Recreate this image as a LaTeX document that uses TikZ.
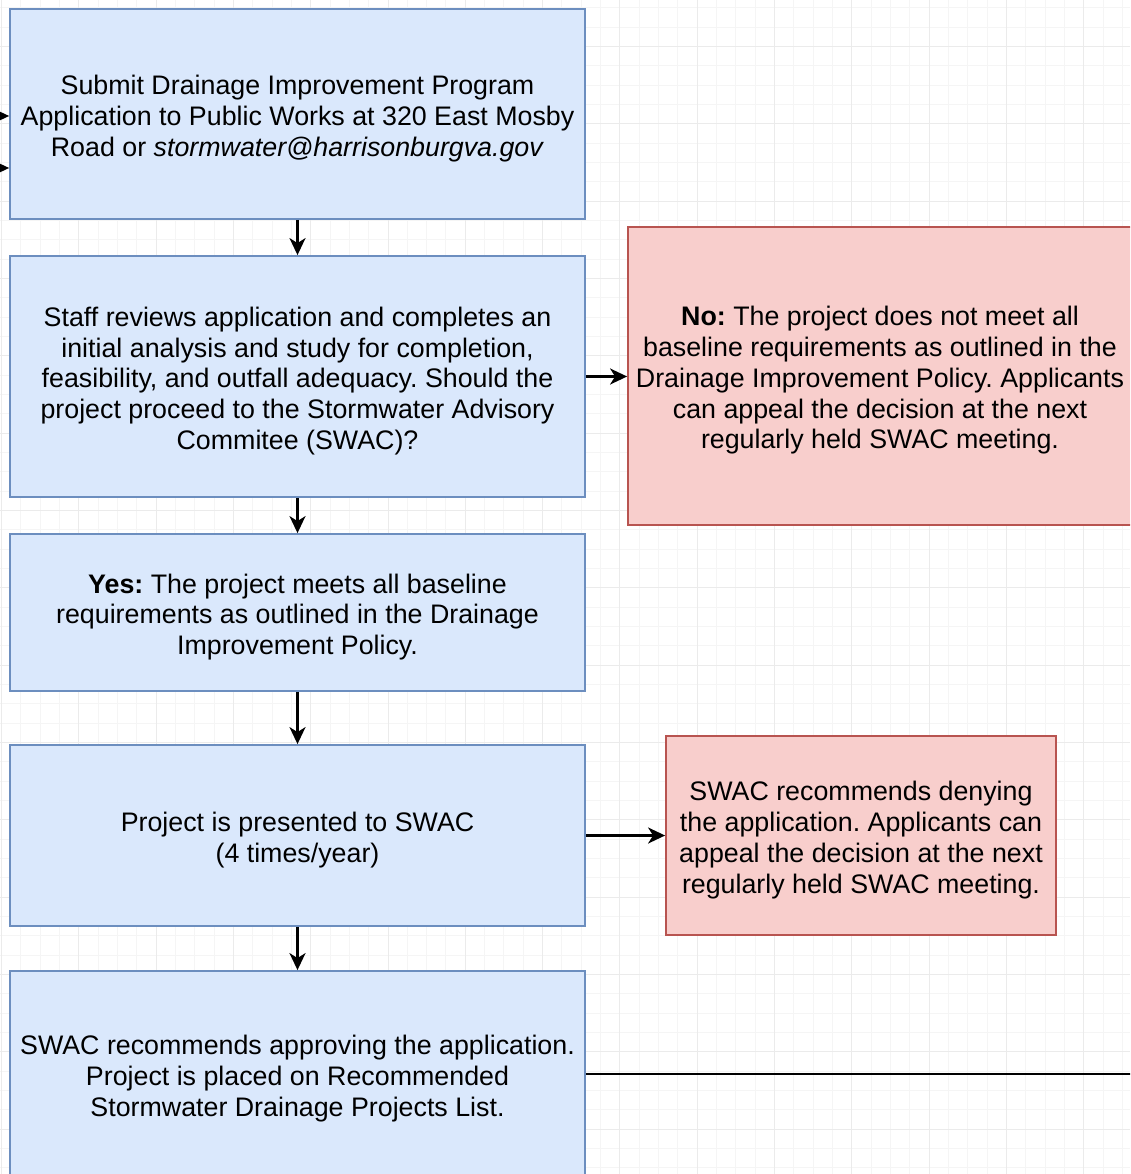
\documentclass[tikz,border=0pt]{standalone}
\usepackage{fontspec}
\setmainfont{Liberation Sans}
\usetikzlibrary{arrows.meta}
\definecolor{bluefill}{HTML}{DAE8FC}
\definecolor{bluedraw}{HTML}{6C8EBF}
\definecolor{redfill}{HTML}{F8CECC}
\definecolor{reddraw}{HTML}{B85450}
\definecolor{gridminor}{HTML}{F5F5F5}
\definecolor{gridmajor}{HTML}{EBEBEB}
\begin{document}
\frenchspacing
\begin{tikzpicture}[x=1pt,y=-1pt,
 box/.style={draw=bluedraw,fill=bluefill,line width=1.8pt,inner sep=0pt},
 redbox/.style={box,draw=reddraw,fill=redfill},
 txt/.style={inner sep=0pt,align=center,yshift=-4.5pt,font=\fontsize{26.8}{30.75}\selectfont},
 conn/.style={line width=2.4pt,-{Stealth[length=17pt,width=16pt,inset=5pt]}},
 plainline/.style={line width=2.2pt}]
\useasboundingbox (0,0) rectangle (1130,1174);
\clip (0,0) rectangle (1130,1174);
\fill[white] (0,0) rectangle (1130,1174);
\foreach \i in {0,...,58} { \draw[gridminor,line width=1pt] ({1.4+19.33*\i},0) -- ++(0,1174); }
\foreach \j in {0,...,60} { \draw[gridminor,line width=1pt] (0,{7.94+19.33*\j}) -- ++(1130,0); }
\foreach \i in {0,...,14} { \draw[gridmajor,line width=1pt] ({1.4+77.32*\i},0) -- ++(0,1174); }
\foreach \j in {0,...,14} { \draw[gridmajor,line width=1pt] (0,{46.6+77.32*\j}) -- ++(1130,0); }

\node[box,minimum width=575pt,minimum height=210pt] (b1) at (297.5,114) {};
\node[box,minimum width=575pt,minimum height=241pt] (b2) at (297.5,376.5) {};
\node[box,minimum width=575pt,minimum height=157pt] (b3) at (297.5,612.5) {};
\node[box,minimum width=575pt,minimum height=181pt] (b4) at (297.5,835.5) {};
\node[box,minimum width=575pt,minimum height=206pt] (b5) at (297.5,1074) {};
\node[redbox,minimum width=504pt,minimum height=298pt] (r1) at (880,376) {};
\node[redbox,minimum width=390pt,minimum height=199pt] (r2) at (861,835.5) {};

\node[txt] (t1) at (b1.center) {Submit Drainage Improvement Program\\Application to Public Works at 320 East Mosby\\Road or \textit{stormwater@harrisonburgva.gov}};
\node[txt] (t2) at (b2.center) {Staff reviews application and completes an\\initial analysis and study for completion,\\feasibility, and outfall adequacy. Should the\\project proceed to the Stormwater Advisory\\Commitee (SWAC)?};
\node[txt] (t3) at (b3.center) {\textbf{Yes:} The project meets all baseline\\requirements as outlined in the Drainage\\Improvement Policy.};
\node[txt] (t4) at (b4.center) {Project is presented to SWAC\\(4 times/year)};
\node[txt] (t5) at (b5.center) {SWAC recommends approving the application.\\Project is placed on Recommended\\Stormwater Drainage Projects List.};
\node[txt] (t6) at (r1.center) {\textbf{No:} The project does not meet all\\baseline requirements as outlined in the\\Drainage Improvement Policy. Applicants\\can appeal the decision at the next\\regularly held SWAC meeting.};
\node[txt] (t7) at (r2.center) {SWAC recommends denying\\the application. Applicants can\\appeal the decision at the next\\regularly held SWAC meeting.};

\coordinate (in1) at (-30,116);
\coordinate (in2) at (-30,168);
\coordinate (out5) at (1150,1074);

\draw[conn] (in1) -- (in1 -| b1.west);
\draw[conn] (in2) -- (in2 -| b1.west);
\draw[conn] (b1) -- (b2);
\draw[conn] (b2) -- (b3);
\draw[conn] (b3) -- (b4);
\draw[conn] (b4) -- (b5);
\draw[conn] (b2.east) -- (b2.east -| r1.west);
\draw[conn] (b4.east) -- (b4.east -| r2.west);
\draw[plainline] (b5.east) -- (out5);
\end{tikzpicture}
\end{document}
